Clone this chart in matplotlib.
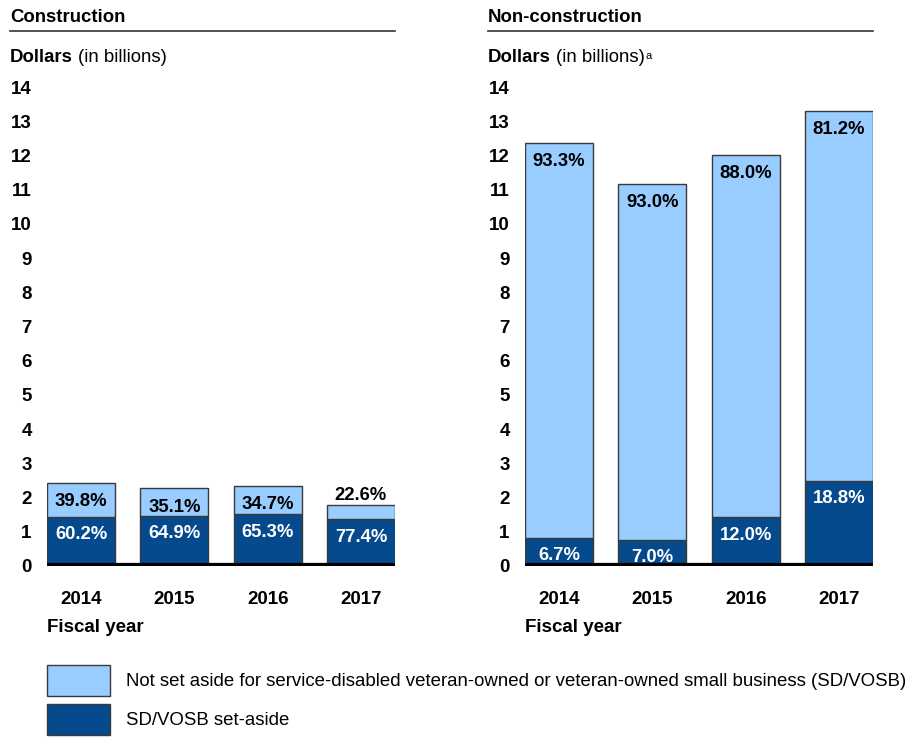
import numpy as np
import matplotlib
matplotlib.use('Agg')
import matplotlib.pyplot as plt
from matplotlib.lines import Line2D

plt.rcParams['font.family'] = ['Liberation Sans', 'DejaVu Sans']

years = ['2014', '2015', '2016', '2017']

# Construction (billions of dollars)
consTotal = [2.42, 2.27, 2.34, 1.79]
consSetAside = [1.44, 1.47, 1.52, 1.37]
consSetPct = ['60.2%', '64.9%', '65.3%', '77.4%']
consNotPct = ['39.8%', '35.1%', '34.7%', '22.6%']

# Non-construction (billions of dollars)
nonTotal = [12.37, 11.16, 12.01, 13.31]
nonSetAside = [0.82, 0.77, 1.43, 2.49]
nonSetPct = ['6.7%', '7.0%', '12.0%', '18.8%']
nonNotPct = ['93.3%', '93.0%', '88.0%', '81.2%']

yTicks = list(range(0, 15))

lightBlue = '#99CCFF'
darkBlue = '#044A8D'
edgeCol = '#3a3a3a'

W, H = 923, 737
fig = plt.figure(figsize=(W / 100, H / 100), dpi=100)

def px(x, y):
	return x / W, 1 - y / H

def drawPanel(left, title, total, setAside, setPct, notPct, superA):
	ax = fig.add_axes([left / W, (H - 566) / H, 348 / W, (566 - 87) / H])
	x = np.arange(len(years))
	notSet = np.array(total) - np.array(setAside)
	bDark = ax.bar(x, setAside, width=0.73, color=darkBlue, edgecolor=edgeCol, linewidth=1)
	bLight = ax.bar(x, notSet, bottom=setAside, width=0.73, color=lightBlue, edgecolor=edgeCol, linewidth=1)
	ax.axhline(0, color='black', linewidth=4.5, zorder=5)
	for i in range(len(years)):
		ax.annotate(setPct[i], xy=(x[i], setAside[i]), xytext=(0, -13), textcoords='offset points',
			ha='center', va='center', color='white', fontsize=13.3, fontweight='bold')
		if notSet[i] < 0.6:  # segment too thin, label sits above the bar
			ax.annotate(notPct[i], xy=(x[i], total[i]), xytext=(0, 7), textcoords='offset points',
				ha='center', va='center', color='black', fontsize=13.3, fontweight='bold')
		else:
			ax.annotate(notPct[i], xy=(x[i], total[i]), xytext=(0, -13.5), textcoords='offset points',
				ha='center', va='center', color='black', fontsize=13.3, fontweight='bold')
	ax.set_xlim(-0.365, 3.365)
	ax.set_ylim(0, 14)
	ax.set_yticks(yTicks)
	ax.set_xticks(x)
	ax.set_xticklabels(years)
	ax.tick_params(axis='y', length=0, labelsize=13.5, pad=11)
	ax.tick_params(axis='x', length=0, labelsize=13.5, pad=18)
	for lab in ax.get_xticklabels() + ax.get_yticklabels():
		lab.set_fontweight('bold')
	for s in ax.spines.values():
		s.set_visible(False)

	# header
	tx = left - 37
	fig.text(*px(tx, 17), title, fontsize=13.4, fontweight='bold', va='center', ha='left')
	fig.add_artist(Line2D([tx / W, (tx + 385) / W], [1 - 31 / H, 1 - 31 / H], color='#333333', linewidth=1.2))
	t1 = fig.text(*px(tx, 57), 'Dollars', fontsize=13.4, fontweight='bold', va='center', ha='left')
	t2 = ax.annotate('(in billions)', xy=(1, 0), xycoords=t1, xytext=(4, 0), textcoords='offset points',
		va='bottom', ha='left', fontsize=13.4, annotation_clip=False)
	if superA:
		ax.annotate('a', xy=(1, 1), xycoords=t2, xytext=(0.5, -2), textcoords='offset points',
			va='top', ha='left', fontsize=8, annotation_clip=False)
	fig.text(*px(left, 628), 'Fiscal year', fontsize=13.5, fontweight='bold', va='center', ha='left')
	return bLight, bDark

bLight, bDark = drawPanel(47, 'Construction', consTotal, consSetAside, consSetPct, consNotPct, False)
drawPanel(525, 'Non-construction', nonTotal, nonSetAside, nonSetPct, nonNotPct, True)

fig.legend([bLight, bDark],
	['Not set aside for service-disabled veteran-owned or veteran-owned small business (SD/VOSB)',
	 'SD/VOSB set-aside'],
	loc='upper left', bbox_to_anchor=(47 / W, 1 - 665 / H), frameon=False,
	prop={'size': 13.4},
	handlelength=3.39, handleheight=2.18, handletextpad=0.86, labelspacing=0.43,
	borderpad=0, borderaxespad=0)

fig.savefig('out.png', dpi=100)
